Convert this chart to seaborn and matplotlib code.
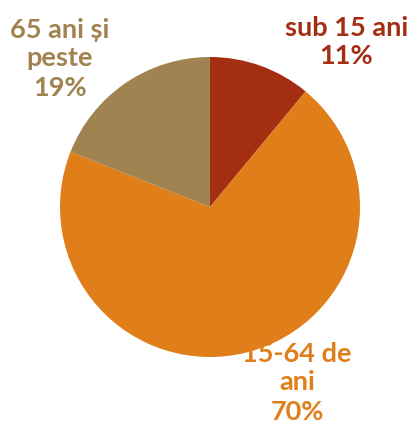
import seaborn as sns
import matplotlib.pyplot as plt

labels = ["sub 15 ani", "15-64 de\nani", "65 ani și\npeste"]
shares = [11, 70, 19]
colors = ["#A32E12", "#E07E1A", "#A08350"]
# label anchor points (data coords, pie radius = 1)
label_pos = [(0.91, 1.1), (0.58, -1.17), (-1.0, 0.99)]

sns.set_style("white")
plt.rcParams['font.family'] = ['Lato', 'DejaVu Sans']

fig = plt.figure(figsize=(4.10, 4.29), dpi=100)
ax = fig.add_axes([60 / 410, 72 / 429, 300 / 410, 300 / 429])

ax.pie(shares, colors=colors, startangle=90, counterclock=False, radius=1,
       wedgeprops=dict(linewidth=0))

for lab, val, col, (x, y) in zip(labels, shares, colors, label_pos):
    ax.text(x, y, f"{lab}\n{val}%", color=col, ha="center", va="center",
            fontsize=19.5, fontweight="bold", linespacing=1.25)

ax.set_xlim(-1, 1)
ax.set_ylim(-1, 1)
ax.set_aspect("equal")
ax.axis("off")

fig.savefig("out.png", dpi=100)
